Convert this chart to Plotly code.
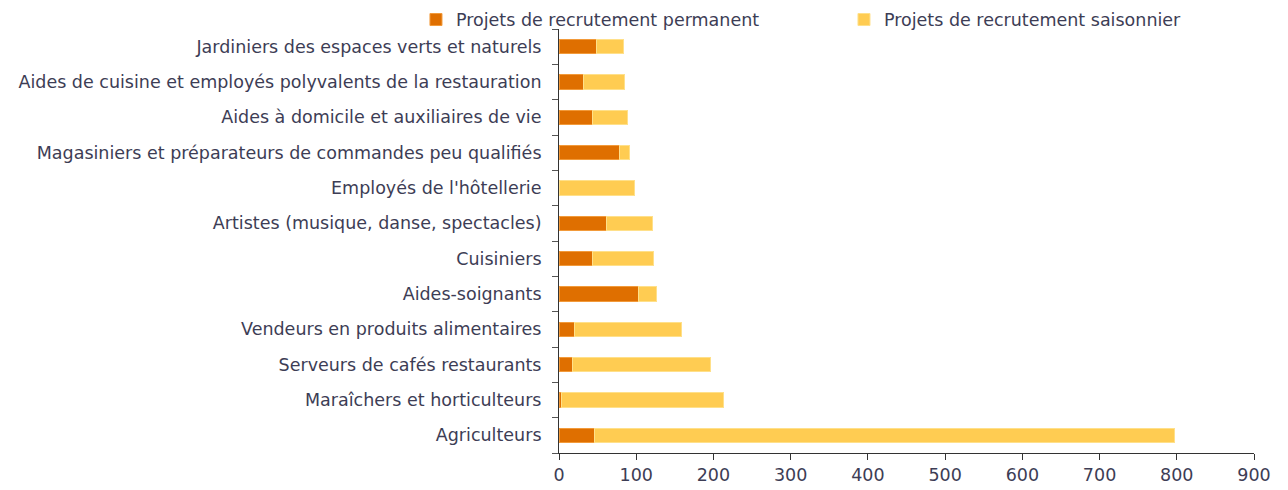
import plotly.graph_objects as go

categories = [
    "Jardiniers des espaces verts et naturels",
    "Aides de cuisine et employés polyvalents de la restauration",
    "Aides à domicile et auxiliaires de vie",
    "Magasiniers et préparateurs de commandes peu qualifiés",
    "Employés de l'hôtellerie",
    "Artistes (musique, danse, spectacles)",
    "Cuisiniers",
    "Aides-soignants",
    "Vendeurs en produits alimentaires",
    "Serveurs de cafés restaurants",
    "Maraîchers et horticulteurs",
    "Agriculteurs",
]
permanent = [49, 32, 44, 78, 0, 62, 43, 103, 20, 17, 3, 46]
saisonnier = [35, 53, 45, 13, 98, 59, 80, 23, 138, 179, 210, 751]

x_ticks = [0, 100, 200, 300, 400, 500, 600, 700, 800, 900]

FONT = "DejaVu Sans"
FS = 17.5
TXT = "#3d3d55"

fig = go.Figure()
fig.add_trace(go.Bar(
    y=categories, x=permanent, orientation="h",
    name="Projets de recrutement permanent",
    marker=dict(color="#DF6F00", line=dict(color="#F29A3A", width=1)),
))
fig.add_trace(go.Bar(
    y=categories, x=saisonnier, orientation="h",
    name="Projets de recrutement saisonnier",
    marker=dict(color="#FFCC52", line=dict(color="#FFE08A", width=1)),
))

fig.update_layout(
    barmode="stack",
    bargap=0.6,
    width=1280, height=482,
    margin=dict(l=551, r=34, t=21, b=37, autoexpand=False),
    paper_bgcolor="white", plot_bgcolor="white",
    font=dict(family=FONT, size=FS, color=TXT),
    showlegend=True,
    legend=dict(
        orientation="h", xref="paper", yref="paper",
        x=-0.2058, y=1.0645, xanchor="left", yanchor="top",
        entrywidth=383, entrywidthmode="pixels",
        traceorder="normal",
        bgcolor="rgba(0,0,0,0)",
        font=dict(family=FONT, size=FS, color=TXT),
        itemwidth=30, tracegroupgap=0,
    ),
    xaxis=dict(
        range=[0, 900], tickvals=x_ticks, ticktext=[str(v) for v in x_ticks],
        showgrid=False, zeroline=False,
        showline=True, linecolor="#333333", linewidth=1,
        ticks="outside", ticklen=6, tickcolor="#333333",
        tickfont=dict(family=FONT, size=FS, color=TXT),
    ),
    yaxis=dict(
        categoryorder="array", categoryarray=categories[::-1],
        showgrid=False, zeroline=False,
        showline=True, linecolor="#333333", linewidth=1,
        ticks="outside", ticklen=6, tickcolor="#555555",
        tickson="boundaries",
        ticklabelstandoff=13,
        tickfont=dict(family=FONT, size=FS, color=TXT),
    ),
)

fig.write_html("out.html")
